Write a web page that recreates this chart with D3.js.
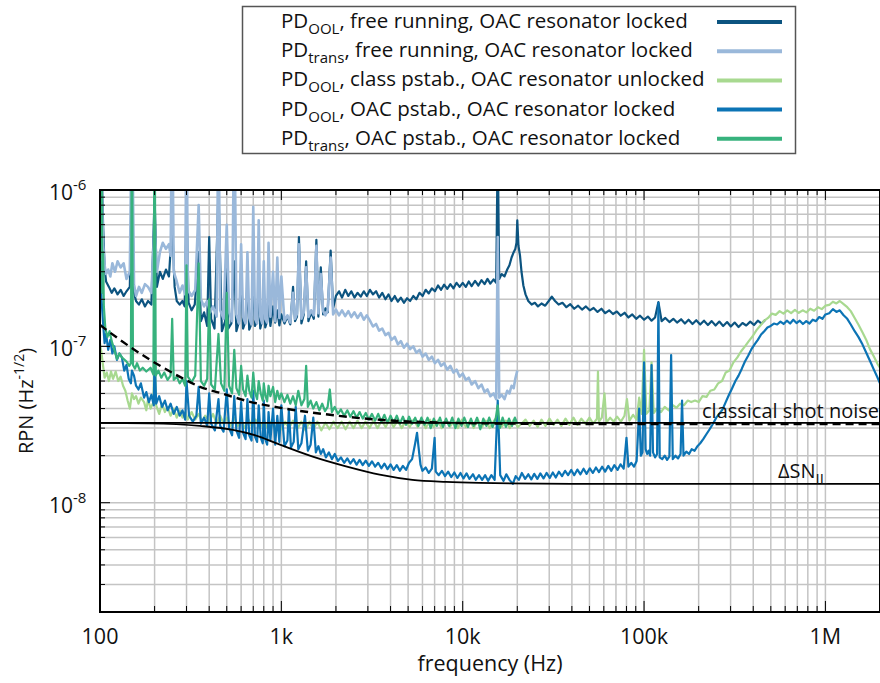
<!DOCTYPE html>
<html>
<head>
<meta charset="utf-8">
<script src="https://cdn.jsdelivr.net/npm/d3@7"></script>
<style>
  body { margin: 0; background: #fff; }
  text { font-family: "Open Sans", "Noto Sans", sans-serif; fill: #111; }
</style>
</head>
<body>
<svg id="chart" width="880" height="683"></svg>
<script>
// all spectra values are in units of 1e-8 Hz^-1/2
const UNIT = 1e-8;

// PD_OOL, free running, OAC resonator locked
const oolFree = [
  [100, 400], [102, 150], [104, 60], [106, 32], [108, 26], [112, 24], [116, 22], [120, 23.5], [125, 21.5],
  [130, 23], [135, 21], [140, 22.5], [146, 24], [150, 120], [154, 22], [158, 19.5], [164, 18.5], [170, 20],
  [177, 18], [184, 19.5], [192, 18.5], [200, 90], [206, 24], [214, 30], [222, 27], [231, 31], [240, 28],
  [250, 60], [258, 24], [265, 19.5], [275, 18.5], [285, 19.5], [293, 18], [300, 80], [308, 19], [320, 17],
  [333, 18.5], [350, 40], [360, 14.5], [375, 16.5], [390, 13.5], [400, 50], [410, 15], [428, 13], [450, 100],
  [470, 12.5], [490, 14.5], [500, 45], [510, 13], [530, 14], [550, 35], [565, 12.5], [585, 14.5], [600, 30],
  [615, 13], [635, 14.5], [650, 25], [665, 12.8], [685, 14], [700, 28], [715, 13.5], [735, 14.5], [750, 24],
  [765, 13], [785, 14.8], [800, 22], [815, 13.2], [835, 14.5], [850, 20], [870, 13.5], [900, 18], [925, 14.2],
  [950, 17], [975, 13.6], [1000, 16], [1040, 14], [1080, 15.5], [1120, 13.8], [1160, 24], [1190, 14.5],
  [1220, 15.5], [1250, 50], [1290, 14], [1330, 16], [1370, 35], [1410, 14.5], [1460, 16.5], [1510, 15],
  [1560, 48], [1600, 15.5], [1650, 32], [1700, 16], [1750, 17.5], [1800, 16.5], [1870, 41], [1930, 17.5],
  [2000, 21], [2080, 22.5], [2160, 20.5], [2250, 23], [2340, 21], [2430, 22.5], [2530, 20.5], [2630, 22],
  [2740, 20.8], [2850, 22.5], [2960, 21], [3080, 23], [3200, 21.5], [3330, 22.5], [3460, 20.5], [3600, 22],
  [3750, 20], [3900, 21.5], [4050, 19.5], [4220, 21], [4390, 19.3], [4560, 20.5], [4740, 19], [4930, 20.3],
  [5130, 19.5], [5340, 21], [5550, 20], [5780, 22], [6010, 21], [6250, 23], [6500, 21.8], [6760, 23.5],
  [7030, 22.5], [7310, 24.5], [7600, 23], [7900, 24.8], [8220, 23.3], [8550, 25], [8890, 23.5], [9250, 25.5],
  [9620, 24], [10000, 25.5], [10400, 24], [10800, 26], [11200, 24.3], [11700, 26.2], [12200, 24.5],
  [12700, 26.5], [13200, 25], [13700, 27], [14200, 25.2], [14800, 26.8], [15300, 25.5], [15600, 200],
  [15900, 27], [16400, 29], [17000, 28], [17600, 31], [18100, 33], [18600, 37], [19100, 40], [19500, 42],
  [19800, 46], [20000, 64], [20300, 44], [20700, 38], [21100, 30], [21600, 24.5], [22200, 21.5], [23000, 19.5],
  [24000, 18.5], [25000, 19], [26000, 18], [27200, 18.8], [28500, 18.2], [29800, 19.5], [31000, 20.8],
  [32300, 19.5], [33800, 18.5], [35500, 19], [37300, 17.8], [39200, 18.6], [41200, 17.4], [43300, 18.2],
  [45500, 17.2], [47800, 18], [50200, 17], [52700, 17.6], [55400, 16.6], [58200, 17.4], [61100, 16.3],
  [64200, 17], [67400, 16.1], [70800, 16.7], [74400, 15.7], [78100, 16.4], [82000, 15.3], [86100, 16],
  [90500, 15], [95000, 15.7], [100000, 14.8], [105000, 15.5], [110000, 14.6], [115000, 15.3], [120000, 19.2],
  [125000, 14.5], [131000, 15.2], [138000, 14.3], [145000, 15], [152000, 14.2], [160000, 14.9], [168000, 14],
  [176000, 14.8], [185000, 13.9], [194000, 14.7], [204000, 13.8], [214000, 14.6], [225000, 13.7],
  [236000, 14.5], [248000, 13.6], [260000, 14.4], [273000, 13.5], [287000, 14.3], [301000, 13.4],
  [316000, 14.2], [332000, 13.3], [349000, 14.1], [366000, 13.6], [385000, 14.4], [404000, 13.7],
  [424000, 14.6], [445000, 14], [467000, 14.8]
];

// PD_trans, free running, OAC resonator locked
const transFree = [
  [100, 400], [102, 120], [104, 45], [106, 33], [108, 29], [111, 31], [114, 28], [117, 34], [121, 30],
  [125, 35], [130, 32], [135, 34], [140, 27], [146, 30], [150, 400], [154, 25], [158, 21], [164, 24],
  [170, 22], [177, 25], [184, 24], [192, 22], [200, 60], [206, 30], [214, 40], [222, 46], [231, 42],
  [240, 45], [245, 38], [250, 400], [255, 30], [265, 26], [275, 22], [285, 24.5], [295, 21.5], [300, 400],
  [305, 23], [320, 21], [335, 23], [350, 80], [360, 20], [375, 18], [390, 19.5], [405, 16.5], [420, 18],
  [440, 15.5], [450, 400], [460, 17], [480, 15], [500, 60], [515, 16.5], [535, 14.5], [550, 400], [565, 16],
  [585, 14], [600, 45], [615, 15.5], [635, 14], [650, 40], [665, 15.2], [685, 13.8], [700, 78], [715, 15],
  [735, 14], [750, 64], [765, 15.5], [785, 14], [800, 35], [815, 15], [835, 14.2], [850, 46], [870, 15.5],
  [900, 30], [925, 14.5], [950, 37], [975, 15.2], [1000, 28], [1040, 14.5], [1080, 15.8], [1120, 14.2],
  [1160, 22], [1190, 15], [1220, 16.2], [1250, 45], [1290, 15], [1330, 16.5], [1370, 32], [1410, 15.4],
  [1460, 17], [1510, 15.8], [1560, 44], [1600, 16.3], [1650, 29], [1700, 16.8], [1750, 15.8], [1800, 17],
  [1870, 37], [1930, 16], [2000, 17.2], [2080, 15.8], [2160, 17], [2250, 15.6], [2340, 16.8], [2430, 15.4],
  [2530, 16.5], [2630, 15.2], [2740, 16.3], [2850, 14.8], [2960, 15.8], [3080, 14.6], [3200, 13.4],
  [3330, 13.9], [3460, 12.6], [3600, 13], [3750, 11.8], [3900, 12.2], [4050, 11], [4220, 11.5], [4390, 10.3],
  [4560, 10.8], [4740, 9.8], [4930, 10.4], [5130, 9.6], [5340, 10], [5550, 9.1], [5780, 9.5], [6010, 8.6],
  [6250, 9], [6500, 8.2], [6760, 8.6], [7030, 7.8], [7310, 8.2], [7600, 7.5], [7900, 7.8], [8220, 7.1],
  [8550, 7.5], [8890, 6.8], [9250, 7.1], [9620, 6.4], [10000, 6.7], [10400, 6.1], [10800, 6.3], [11200, 5.7],
  [11700, 6], [12200, 5.4], [12700, 5.7], [13200, 5.1], [13700, 5.3], [14200, 4.8], [14800, 5.0],
  [15300, 4.6], [15600, 50], [15900, 4.7], [16400, 4.9], [17000, 4.6], [17600, 5.2], [18100, 5.0],
  [18600, 5.6], [19100, 5.4], [19500, 6.2], [20000, 7.0]
];

// PD_OOL, class pstab., OAC resonator unlocked
const oolClassUnlocked = [
  [100, 10.5], [102, 9], [104, 7.5], [106, 6.3], [109, 6.8], [112, 6.0], [115, 6.9], [118, 6.2], [122, 6.9],
  [126, 6.0], [130, 6.4], [134, 5.6], [138, 5.2], [142, 4.5], [146, 4.0], [150, 5.0], [154, 4.6], [158, 4.8],
  [163, 4.3], [168, 4.7], [175, 4.4], [180, 3.9], [184, 4.6], [190, 4.0], [197, 4.4], [200, 11], [204, 4.2],
  [212, 3.7], [220, 4.3], [228, 3.8], [236, 4.1], [245, 3.6], [255, 4.0], [265, 3.5], [275, 3.9], [285, 3.5],
  [295, 3.8], [305, 3.4], [320, 3.8], [335, 3.4], [350, 3.7], [365, 3.3], [380, 3.6], [400, 3.3], [420, 3.7],
  [440, 3.2], [460, 3.6], [480, 3.2], [500, 3.5], [525, 3.1], [550, 3.5], [575, 3.1], [600, 3.4], [630, 3.0],
  [660, 3.4], [690, 3.05], [720, 3.4], [760, 3.0], [800, 3.35], [840, 3.0], [880, 3.3], [920, 2.95],
  [960, 3.3], [1000, 2.95], [1050, 3.3], [1100, 3.0], [1160, 3.35], [1220, 2.95], [1290, 3.3], [1360, 2.9],
  [1430, 3.3], [1500, 2.95], [1580, 3.3], [1660, 2.9], [1750, 3.25], [1840, 2.95], [1940, 3.3], [2040, 3.0],
  [2150, 3.3], [2260, 2.95], [2380, 3.3], [2500, 3.0], [2630, 3.35], [2770, 3.0], [2910, 3.3], [3060, 3.0],
  [3220, 3.35], [3390, 3.0], [3570, 3.35], [3760, 3.05], [3950, 3.4], [4160, 3.05], [4380, 3.35], [4610, 3.0],
  [4850, 3.35], [5100, 3.05], [5370, 3.4], [5650, 3.05], [5950, 3.35], [6260, 3.0], [6590, 3.4], [6930, 3.05],
  [7290, 3.35], [7670, 3.0], [8070, 3.4], [8500, 3.05], [8940, 3.35], [9410, 3.0], [9900, 3.4], [10400, 3.05],
  [11000, 3.35], [11500, 3.0], [12100, 3.4], [12800, 3.05], [13400, 3.35], [14100, 3.0], [14900, 3.35],
  [15600, 3.6], [16400, 3.05], [17300, 3.35], [18200, 3.0], [19100, 3.4], [20100, 3.05], [21100, 3.2],
  [22200, 3.4], [23400, 3.1], [24600, 3.35], [25900, 3.05], [27200, 3.4], [28600, 3.1], [30100, 3.45],
  [31700, 3.15], [33300, 3.4], [35000, 3.1], [36900, 3.45], [38800, 3.15], [40800, 3.5], [42900, 3.15],
  [45100, 3.45], [47500, 3.2], [50000, 3.5], [52500, 3.2], [55000, 3.45], [55700, 6.9], [56400, 3.3],
  [58500, 3.5], [60500, 5.0], [62000, 3.25], [65000, 3.5], [68000, 3.3], [71000, 3.55], [74500, 3.3],
  [78000, 3.6], [80500, 4.6], [83000, 3.35], [87000, 3.65], [91000, 3.4], [94000, 4.7], [97000, 3.7],
  [100000, 9.5], [103000, 3.7], [107000, 3.9], [110000, 7.9], [113000, 3.75], [118000, 4.0], [124000, 3.8],
  [130000, 4.1], [137000, 3.9], [144000, 4.2], [151000, 4.05], [158000, 4.3], [166000, 4.2], [174000, 4.5],
  [182000, 4.4], [191000, 4.5], [200000, 4.4], [210000, 4.8], [221000, 4.75], [232000, 5.2], [244000, 5.3],
  [256000, 5.8], [269000, 6.0], [282000, 6.8], [296000, 7.0], [311000, 7.9], [327000, 8.5], [343000, 9.3],
  [360000, 10.0], [378000, 10.8], [397000, 11.6], [417000, 12.7], [438000, 13.6], [460000, 14.6],
  [483000, 15.2], [507000, 16.2], [532000, 15.9], [559000, 16.8], [587000, 16.2], [616000, 17.0],
  [647000, 16.3], [679000, 17.1], [713000, 16.4], [749000, 17.0], [786000, 16.5], [825000, 17.4],
  [866000, 16.9], [910000, 17.8], [955000, 17.3], [1000000, 18.2], [1050000, 18.4], [1100000, 19.3],
  [1150000, 18.8], [1200000, 19.5], [1260000, 18.6], [1320000, 17.8], [1380000, 16.8], [1450000, 15.2],
  [1520000, 13.8], [1600000, 12.3], [1680000, 11.0], [1760000, 9.6], [1850000, 8.6], [1940000, 7.7],
  [2000000, 7.3]
];

// PD_OOL, OAC pstab., OAC resonator locked
const oolPstab = [
  [100, 30], [101, 35], [102, 20], [104, 14], [106, 10.5], [108, 12], [111, 9.5], [114, 11], [117, 9],
  [120, 10], [124, 8.2], [128, 9], [132, 8.5], [136, 7.0], [140, 7.6], [144, 6.2], [148, 5.8], [150, 7],
  [154, 6.5], [158, 5.6], [163, 5.3], [168, 5.8], [175, 4.7], [180, 5.1], [186, 4.4], [192, 4.9], [198, 4.2],
  [200, 9], [204, 4.3], [212, 4.8], [220, 4.1], [228, 4.5], [236, 3.9], [245, 4.3], [255, 3.7], [265, 4.1],
  [275, 3.6], [285, 3.9], [295, 3.4], [300, 6.0], [310, 3.6], [325, 3.3], [340, 3.6], [350, 5.5], [360, 3.2],
  [375, 3.5], [390, 3.1], [400, 5.0], [410, 3.2], [430, 2.9], [450, 4.6], [460, 3.1], [480, 2.85], [500, 5.3],
  [515, 3.0], [535, 2.7], [550, 4.8], [565, 2.9], [585, 2.6], [600, 4.4], [615, 2.8], [635, 2.55], [650, 4.6],
  [665, 2.7], [685, 2.5], [700, 5.2], [715, 2.65], [735, 2.45], [750, 4.2], [770, 2.6], [790, 2.4], [800, 4.5],
  [815, 2.55], [835, 2.35], [850, 3.8], [870, 2.5], [900, 4.0], [925, 2.35], [950, 3.6], [975, 2.45],
  [1000, 4.2], [1040, 2.3], [1080, 2.5], [1100, 3.9], [1130, 2.25], [1170, 2.45], [1200, 4.1], [1240, 2.2],
  [1290, 2.4], [1350, 3.6], [1400, 2.15], [1450, 2.35], [1500, 3.5], [1550, 2.1], [1600, 2.3], [1650, 2.05],
  [1700, 2.2], [1760, 1.95], [1830, 2.1], [1900, 1.9], [1970, 2.05], [2050, 1.85], [2130, 1.95], [2220, 1.8],
  [2310, 1.92], [2400, 1.78], [2500, 1.9], [2600, 1.75], [2700, 1.88], [2810, 1.74], [2920, 1.86],
  [3040, 1.72], [3160, 1.84], [3290, 1.7], [3420, 1.8], [3560, 1.66], [3700, 1.78], [3850, 1.64], [4000, 1.76],
  [4160, 1.62], [4330, 1.74], [4500, 1.6], [4680, 1.72], [4870, 1.62], [5060, 1.8], [5260, 1.9], [5470, 2.4],
  [5600, 2.8], [5700, 2.3], [5850, 1.75], [6000, 1.6], [6250, 1.68], [6500, 1.55], [6760, 1.65], [7000, 2.6],
  [7100, 1.58], [7380, 1.5], [7680, 1.6], [7990, 1.48], [8310, 1.58], [8640, 1.46], [8990, 1.56], [9350, 1.44],
  [9720, 1.55], [10100, 1.43], [10500, 1.54], [10900, 1.42], [11400, 1.52], [11800, 1.4], [12300, 1.5],
  [12800, 1.4], [13300, 1.5], [13800, 1.38], [14400, 1.5], [15000, 1.4], [15600, 4.5], [16100, 1.5],
  [16800, 1.38], [17400, 1.52], [18100, 1.4], [18900, 1.32], [19600, 1.48], [20400, 1.4], [21200, 1.55],
  [22100, 1.42], [23000, 1.52], [23900, 1.41], [24800, 1.53], [25800, 1.42], [26800, 1.54], [27900, 1.43],
  [29000, 1.55], [30200, 1.44], [31400, 1.56], [32600, 1.45], [33900, 1.58], [35300, 1.48], [36700, 1.6],
  [38100, 1.5], [39700, 1.62], [41200, 1.5], [42900, 1.63], [44600, 1.52], [46400, 1.65], [48200, 1.53],
  [50200, 1.66], [52200, 1.55], [54300, 1.68], [56400, 1.57], [58700, 1.7], [61000, 1.58], [63500, 1.72],
  [66000, 1.6], [68600, 1.74], [71400, 1.62], [74200, 1.76], [77200, 1.65], [80000, 2.6], [82000, 1.7],
  [85000, 1.8], [88000, 1.7], [91000, 1.85], [94000, 4.0], [96000, 2.0], [98000, 2.1], [100000, 7.9],
  [102000, 2.2], [104000, 2.05], [106000, 2.15], [108000, 2.0], [110000, 7.6], [112000, 2.1], [115000, 1.95],
  [118000, 2.05], [120000, 19], [122000, 1.95], [126000, 1.9], [130000, 2.0], [134000, 1.88], [138000, 1.98],
  [141000, 8.8], [144000, 1.9], [149000, 2.0], [154000, 1.92], [159000, 2.05], [162000, 4.5], [165000, 2.0],
  [171000, 2.12], [177000, 2.05], [183000, 2.2], [190000, 2.15], [197000, 2.3], [204000, 2.4], [212000, 2.55],
  [221000, 2.75], [230000, 2.95], [240000, 3.2], [250000, 3.5], [260000, 3.7], [271000, 3.95], [282000, 4.4],
  [294000, 4.9], [306000, 5.4], [319000, 6.0], [332000, 6.5], [346000, 7.2], [360000, 8.0], [375000, 8.7],
  [391000, 9.6], [407000, 10.3], [424000, 11.0], [442000, 11.9], [460000, 12.5], [479000, 13.2],
  [499000, 13.5], [520000, 14.0], [542000, 13.8], [565000, 14.4], [588000, 13.9], [613000, 14.6],
  [639000, 14.0], [665000, 14.8], [693000, 14.1], [722000, 14.6], [752000, 13.9], [784000, 14.5],
  [817000, 14.0], [851000, 14.8], [887000, 14.5], [924000, 15.4], [963000, 15.0], [1000000, 16.0],
  [1050000, 16.3], [1100000, 17.3], [1150000, 16.6], [1200000, 17.0], [1260000, 15.8], [1320000, 15.0],
  [1380000, 13.8], [1450000, 12.5], [1520000, 11.5], [1600000, 10.3], [1680000, 9.1], [1760000, 8.1],
  [1850000, 7.1], [1940000, 6.3], [2000000, 5.8]
];

// PD_trans, OAC pstab., OAC resonator locked
const transPstab = [
  [100, 400], [101, 80], [102, 300], [103, 22], [104, 40], [105, 18], [107, 13], [110, 11.5], [113, 12.5],
  [116, 10.8], [120, 9.5], [124, 8.3], [128, 9], [132, 8.5], [140, 8.0], [145, 7.5], [148, 7.8], [150, 400],
  [152, 7.6], [156, 7.2], [160, 7.8], [166, 7.0], [172, 7.3], [180, 6.9], [190, 7.3], [197, 6.6], [200, 400],
  [203, 6.5], [210, 7.0], [218, 6.3], [226, 6.8], [236, 6.1], [245, 6.5], [250, 15], [255, 6.1], [265, 6.4],
  [275, 5.8], [285, 6.2], [295, 5.6], [300, 33], [305, 6.4], [320, 5.9], [335, 6.5], [350, 34], [360, 6.0],
  [375, 5.6], [390, 6.2], [400, 20], [410, 5.7], [430, 5.3], [450, 12], [465, 5.8], [485, 5.2], [500, 22],
  [515, 5.6], [535, 5.0], [550, 9.5], [565, 5.4], [585, 4.9], [600, 7.5], [615, 5.3], [635, 4.8], [650, 6.5],
  [665, 5.2], [685, 4.7], [700, 6.8], [715, 5.1], [735, 4.6], [750, 6.0], [770, 5.0], [790, 4.5], [800, 5.8],
  [815, 4.9], [835, 4.45], [850, 5.6], [870, 4.8], [900, 5.5], [925, 4.4], [950, 5.2], [975, 4.6], [1000, 5.0],
  [1040, 4.4], [1080, 4.9], [1120, 4.3], [1160, 4.8], [1200, 4.2], [1240, 5.2], [1290, 4.2], [1340, 4.6],
  [1370, 7.5], [1400, 4.1], [1450, 4.5], [1500, 4.0], [1560, 4.4], [1620, 3.9], [1680, 4.3], [1740, 3.85],
  [1800, 4.1], [1850, 5.3], [1900, 3.8], [1970, 4.1], [2050, 3.7], [2130, 3.95], [2220, 3.6], [2310, 3.9],
  [2400, 3.55], [2500, 3.85], [2600, 3.5], [2700, 3.8], [2810, 3.45], [2920, 3.75], [3040, 3.4], [3160, 3.7],
  [3290, 3.35], [3420, 3.7], [3560, 3.3], [3700, 3.65], [3850, 3.25], [4000, 3.6], [4160, 3.25], [4330, 3.6],
  [4500, 3.2], [4680, 3.55], [4870, 3.15], [5060, 3.55], [5260, 3.2], [5470, 3.5], [5690, 3.1], [5920, 3.5],
  [6160, 3.15], [6400, 3.5], [6660, 3.0], [6930, 3.45], [7200, 3.1], [7490, 3.5], [7790, 3.05], [8100, 3.45],
  [8420, 3.1], [8760, 3.5], [9110, 3.0], [9470, 3.45], [9850, 3.1], [10200, 3.5], [10700, 3.05], [11100, 3.45],
  [11500, 3.1], [12000, 3.5], [12500, 2.95], [13000, 3.45], [13500, 3.1], [14000, 3.5], [14600, 3.05],
  [15200, 3.45], [15600, 4.2], [16000, 3.0], [16600, 3.5], [17300, 3.05], [18000, 3.45], [18700, 3.1],
  [19400, 3.5], [20000, 3.2]
];

// reference levels
const shotNoiseExcess = [
  [100, 13.7], [129, 11.0], [189, 8.2], [276, 6.38], [356, 5.51], [459, 5.04], [672, 4.42], [982, 4.05],
  [1852, 3.65], [3483, 3.39], [6560, 3.27], [12350, 3.22], [50000, 3.19], [2000000, 3.18]
];
const shotNoise = [[100, 3.24], [2000000, 3.24]];
const snIL = [
  [100, 3.24], [189, 3.22], [356, 3.1], [541, 2.92], [761, 2.64], [982, 2.35], [1490, 1.97], [2300, 1.70],
  [3483, 1.51], [5277, 1.40], [8100, 1.36], [12350, 1.34], [40000, 1.32], [2000000, 1.32]
];

const seriesColors = ['#0c5480', '#9ab8da', '#a8d990', '#0c74b5', '#37b27d'];
const legendLabels = [
  ['PD', 'OOL', ', free running, OAC resonator locked'],
  ['PD', 'trans', ', free running, OAC resonator locked'],
  ['PD', 'OOL', ', class pstab., OAC resonator unlocked'],
  ['PD', 'OOL', ', OAC pstab., OAC resonator locked'],
  ['PD', 'trans', ', OAC pstab., OAC resonator locked']
];
const xTickValues = [100, 1e3, 1e4, 1e5, 1e6];
const xTickLabels = ['100', '1k', '10k', '100k', '1M'];
const yTickValues = [1e-6, 1e-7, 1e-8];
const yTickExponents = ['-6', '-7', '-8'];

const svg = d3.select('#chart');
const plotLeft = 100, plotRight = 880, plotTop = 190, plotBottom = 612;

const x = d3.scaleLog().domain([100, 2e6]).range([plotLeft, plotRight]);
const y = d3.scaleLog().domain([2e-9, 1e-6]).range([plotBottom, plotTop]);

const isDecade = v => Math.abs(Math.log10(v) - Math.round(Math.log10(v))) < 1e-9;

// grid
const grid = svg.append('g').attr('stroke', '#c4c4c4').attr('stroke-width', 1.5);
grid.selectAll('.gx').data(x.ticks()).join('line')
  .attr('x1', d => x(d)).attr('x2', d => x(d))
  .attr('y1', plotTop).attr('y2', plotBottom);
grid.selectAll('.gy').data(y.ticks()).join('line')
  .attr('x1', plotLeft).attr('x2', plotRight)
  .attr('y1', d => y(d)).attr('y2', d => y(d));

// clip for traces
svg.append('clipPath').attr('id', 'plotClip')
  .append('rect').attr('x', plotLeft).attr('y', plotTop)
  .attr('width', plotRight - plotLeft).attr('height', plotBottom - plotTop);

const line = d3.line()
  .x(d => x(d[0]))
  .y(d => y(d[1] * UNIT));
const smoothLine = d3.line()
  .x(d => x(d[0]))
  .y(d => y(d[1] * UNIT))
  .curve(d3.curveMonotoneX);

const plot = svg.append('g').attr('clip-path', 'url(#plotClip)');

const traces = [oolFree, transFree, oolClassUnlocked, oolPstab, transPstab];
traces.forEach((data, i) => {
  plot.append('path')
    .datum(data)
    .attr('d', line)
    .attr('fill', 'none')
    .attr('stroke', seriesColors[i])
    .attr('stroke-width', i === 1 ? 2.6 : 2.2)
    .attr('stroke-linejoin', 'round');
});

// black reference curves
plot.append('path').datum(shotNoise).attr('d', line)
  .attr('fill', 'none').attr('stroke', '#000').attr('stroke-width', 1.8);
plot.append('path').datum(snIL).attr('d', smoothLine)
  .attr('fill', 'none').attr('stroke', '#000').attr('stroke-width', 1.8);
plot.append('path').datum(shotNoiseExcess).attr('d', smoothLine)
  .attr('fill', 'none').attr('stroke', '#000').attr('stroke-width', 2.4)
  .attr('stroke-dasharray', '8,5');

// annotations
svg.append('text').attr('x', 702).attr('y', 418).attr('font-size', 20)
  .text('classical shot noise');
const snText = svg.append('text').attr('x', 778).attr('y', 478).attr('font-size', 20);
snText.append('tspan').text('\u0394SN');
snText.append('tspan').attr('dy', 6).attr('font-size', 15).text('IL');

// frame and ticks
const axis = svg.append('g').attr('stroke', '#000');
axis.selectAll('.tb').data(x.ticks()).join('line')
  .attr('x1', d => x(d)).attr('x2', d => x(d))
  .attr('y1', plotBottom).attr('y2', d => plotBottom - (isDecade(d) ? 11 : 6))
  .attr('stroke-width', 1);
axis.selectAll('.tt').data(x.ticks()).join('line')
  .attr('x1', d => x(d)).attr('x2', d => x(d))
  .attr('y1', plotTop).attr('y2', d => plotTop + (isDecade(d) ? 10 : 5))
  .attr('stroke-width', 1);
axis.selectAll('.tl').data(y.ticks()).join('line')
  .attr('x1', plotLeft).attr('x2', d => plotLeft + (isDecade(d) ? 10 : 5))
  .attr('y1', d => y(d)).attr('y2', d => y(d))
  .attr('stroke-width', 1);
svg.append('rect')
  .attr('x', plotLeft).attr('y', plotTop)
  .attr('width', plotRight - plotLeft).attr('height', plotBottom - plotTop)
  .attr('fill', 'none').attr('stroke', '#000').attr('stroke-width', 2);

// x tick labels
svg.append('g').selectAll('text').data(xTickValues).join('text')
  .attr('x', d => x(d)).attr('y', 644)
  .attr('text-anchor', 'middle').attr('font-size', 21.5)
  .text((d, i) => xTickLabels[i]);

// y tick labels
yTickValues.forEach((v, i) => {
  const t = svg.append('text')
    .attr('x', 49).attr('y', y(v) + 10).attr('font-size', 21);
  t.append('tspan').text('10');
  t.append('tspan').attr('dy', -10).attr('font-size', 15).text(yTickExponents[i]);
});

// axis titles
svg.append('text').attr('x', (plotLeft + plotRight) / 2).attr('y', 671)
  .attr('text-anchor', 'middle').attr('font-size', 21.5)
  .text('frequency (Hz)');
const yTitle = svg.append('text')
  .attr('transform', `translate(33, ${(plotTop + plotBottom) / 2}) rotate(-90)`)
  .attr('text-anchor', 'middle').attr('font-size', 20);
yTitle.append('tspan').text('RPN (Hz');
yTitle.append('tspan').attr('dy', -9).attr('font-size', 14).text('-1/2');
yTitle.append('tspan').attr('dy', 9).text(')');

// legend
const legend = svg.append('g');
legend.append('rect')
  .attr('x', 242.5).attr('y', 6.5).attr('width', 553).attr('height', 147)
  .attr('fill', '#fff').attr('stroke', '#555').attr('stroke-width', 1.5);
legendLabels.forEach((lab, i) => {
  const ly = 22 + i * 29.2;
  legend.append('line')
    .attr('x1', 717).attr('x2', 782).attr('y1', ly).attr('y2', ly)
    .attr('stroke', seriesColors[i]).attr('stroke-width', 4);
  const t = legend.append('text').attr('x', 281).attr('y', ly + 6).attr('font-size', 20.5);
  t.append('tspan').text(lab[0]);
  t.append('tspan').attr('dy', 6).attr('font-size', 15).text(lab[1]);
  t.append('tspan').attr('dy', -6).text(lab[2]);
});
</script>
</body>
</html>
